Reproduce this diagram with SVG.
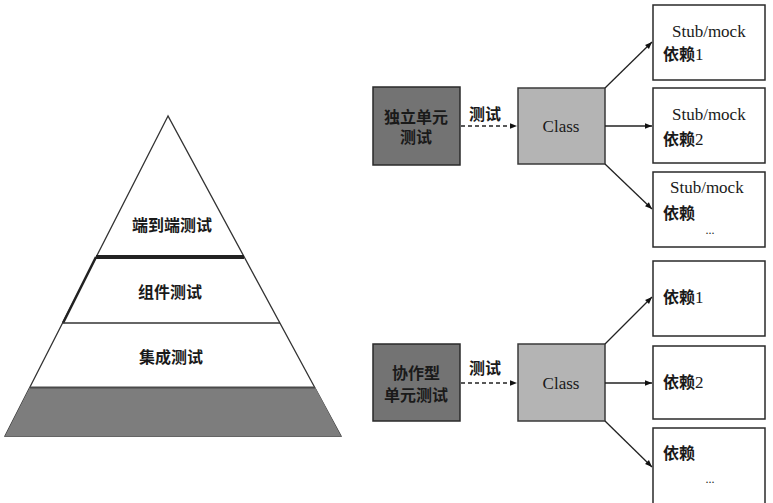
<svg xmlns="http://www.w3.org/2000/svg" width="773" height="503" viewBox="0 0 773 503">
<defs>
<style>
.cn{font-family:"Liberation Serif","Noto Sans CJK SC",serif;font-size:16px;font-weight:bold;fill:#1a1a1a}
.lat{font-family:"Liberation Serif","Noto Sans CJK SC",serif;font-size:17px;fill:#1a1a1a}
.num{font-weight:normal;font-size:17px}
.dep{fill:#fff;stroke:#2a2a2a;stroke-width:1.5}
.tester{fill:#737373;stroke:#2a2a2a;stroke-width:1.5}
.cls{fill:#b4b4b4;stroke:#3a3a3a;stroke-width:1.5}
.arr{stroke:#222;stroke-width:1.3;fill:none;marker-end:url(#ah)}
.dash{stroke:#222;stroke-width:1.3;fill:none;stroke-dasharray:4 3;marker-end:url(#ah)}
</style>
<marker id="ah" viewBox="0 0 10 10" refX="10" refY="5" markerWidth="9" markerHeight="7" markerUnits="userSpaceOnUse" orient="auto">
<path d="M0,1 L10,5 L0,9 z" fill="#111"/>
</marker>
</defs>
<rect width="773" height="503" fill="#fff"/>

<g id="pyramid">
<polygon points="168,116 5,436 341,436" fill="#fff" stroke="#333" stroke-width="1.3"/>
<polygon points="30,387 315,387 341,436 5,436" fill="#7d7d7d"/>
<line x1="30" y1="387.5" x2="315" y2="387.5" stroke="#4a4a4a" stroke-width="2"/>
<line x1="96" y1="257" x2="244" y2="257" stroke="#222" stroke-width="4"/>
<line x1="96" y1="257" x2="63" y2="323" stroke="#222" stroke-width="2.5"/>
<line x1="63" y1="323" x2="280" y2="323" stroke="#333" stroke-width="1.5"/>
<text class="cn" x="172" y="231" text-anchor="middle">端到端测试</text>
<text class="cn" x="170" y="298" text-anchor="middle">组件测试</text>
<text class="cn" x="171" y="363" text-anchor="middle">集成测试</text>
</g>

<g id="solitary-test">
<rect class="tester" x="373" y="87" width="87" height="78"/>
<text class="cn" x="416" y="123" text-anchor="middle">独立单元</text>
<text class="cn" x="416" y="143" text-anchor="middle">测试</text>
</g>
<g id="class-1">
<rect class="cls" x="518" y="88" width="87" height="76"/>
<text class="lat" x="561" y="132" text-anchor="middle">Class</text>
</g>
<g id="stub-1">
<rect class="dep" x="653" y="5" width="112" height="75"/>
<text class="lat" x="672" y="37">Stub/mock</text>
<text class="cn" x="663" y="60">依赖<tspan class="num">1</tspan></text>
</g>
<g id="stub-2">
<rect class="dep" x="653" y="88" width="112" height="75"/>
<text class="lat" x="672" y="120">Stub/mock</text>
<text class="cn" x="663" y="145">依赖<tspan class="num">2</tspan></text>
</g>
<g id="stub-3">
<rect class="dep" x="653" y="172" width="112" height="75"/>
<text class="lat" x="670" y="193">Stub/mock</text>
<text class="cn" x="663" y="219">依赖</text>
<text class="lat" x="710" y="234" text-anchor="middle" style="font-size:12px">...</text>
</g>

<g id="sociable-test">
<rect class="tester" x="373" y="344" width="87" height="77"/>
<text class="cn" x="416" y="379" text-anchor="middle">协作型</text>
<text class="cn" x="416" y="401" text-anchor="middle">单元测试</text>
</g>
<g id="class-2">
<rect class="cls" x="518" y="344" width="87" height="77"/>
<text class="lat" x="561" y="389" text-anchor="middle">Class</text>
</g>
<g id="dep-1">
<rect class="dep" x="653" y="261" width="112" height="75"/>
<text class="cn" x="663" y="303">依赖<tspan class="num">1</tspan></text>
</g>
<g id="dep-2">
<rect class="dep" x="653" y="346" width="112" height="73"/>
<text class="cn" x="663" y="388">依赖<tspan class="num">2</tspan></text>
</g>
<g id="dep-3">
<rect class="dep" x="653" y="428" width="112" height="76"/>
<text class="cn" x="663" y="459">依赖</text>
<text class="lat" x="710" y="483" text-anchor="middle" style="font-size:12px">...</text>
</g>

<g id="connectors">
<path class="dash" d="M461,126 L517,126"/>
<text class="cn" x="485" y="120" text-anchor="middle">测试</text>
<path class="arr" d="M605,88 L652,42"/>
<path class="arr" d="M605,126 L652,126"/>
<path class="arr" d="M605,164 L652,209"/>

<path class="dash" d="M461,383 L517,383"/>
<text class="cn" x="485" y="374" text-anchor="middle">测试</text>
<path class="arr" d="M605,344 L652,297"/>
<path class="arr" d="M605,383 L652,383"/>
<path class="arr" d="M605,421 L652,467"/>
</g>
</svg>
